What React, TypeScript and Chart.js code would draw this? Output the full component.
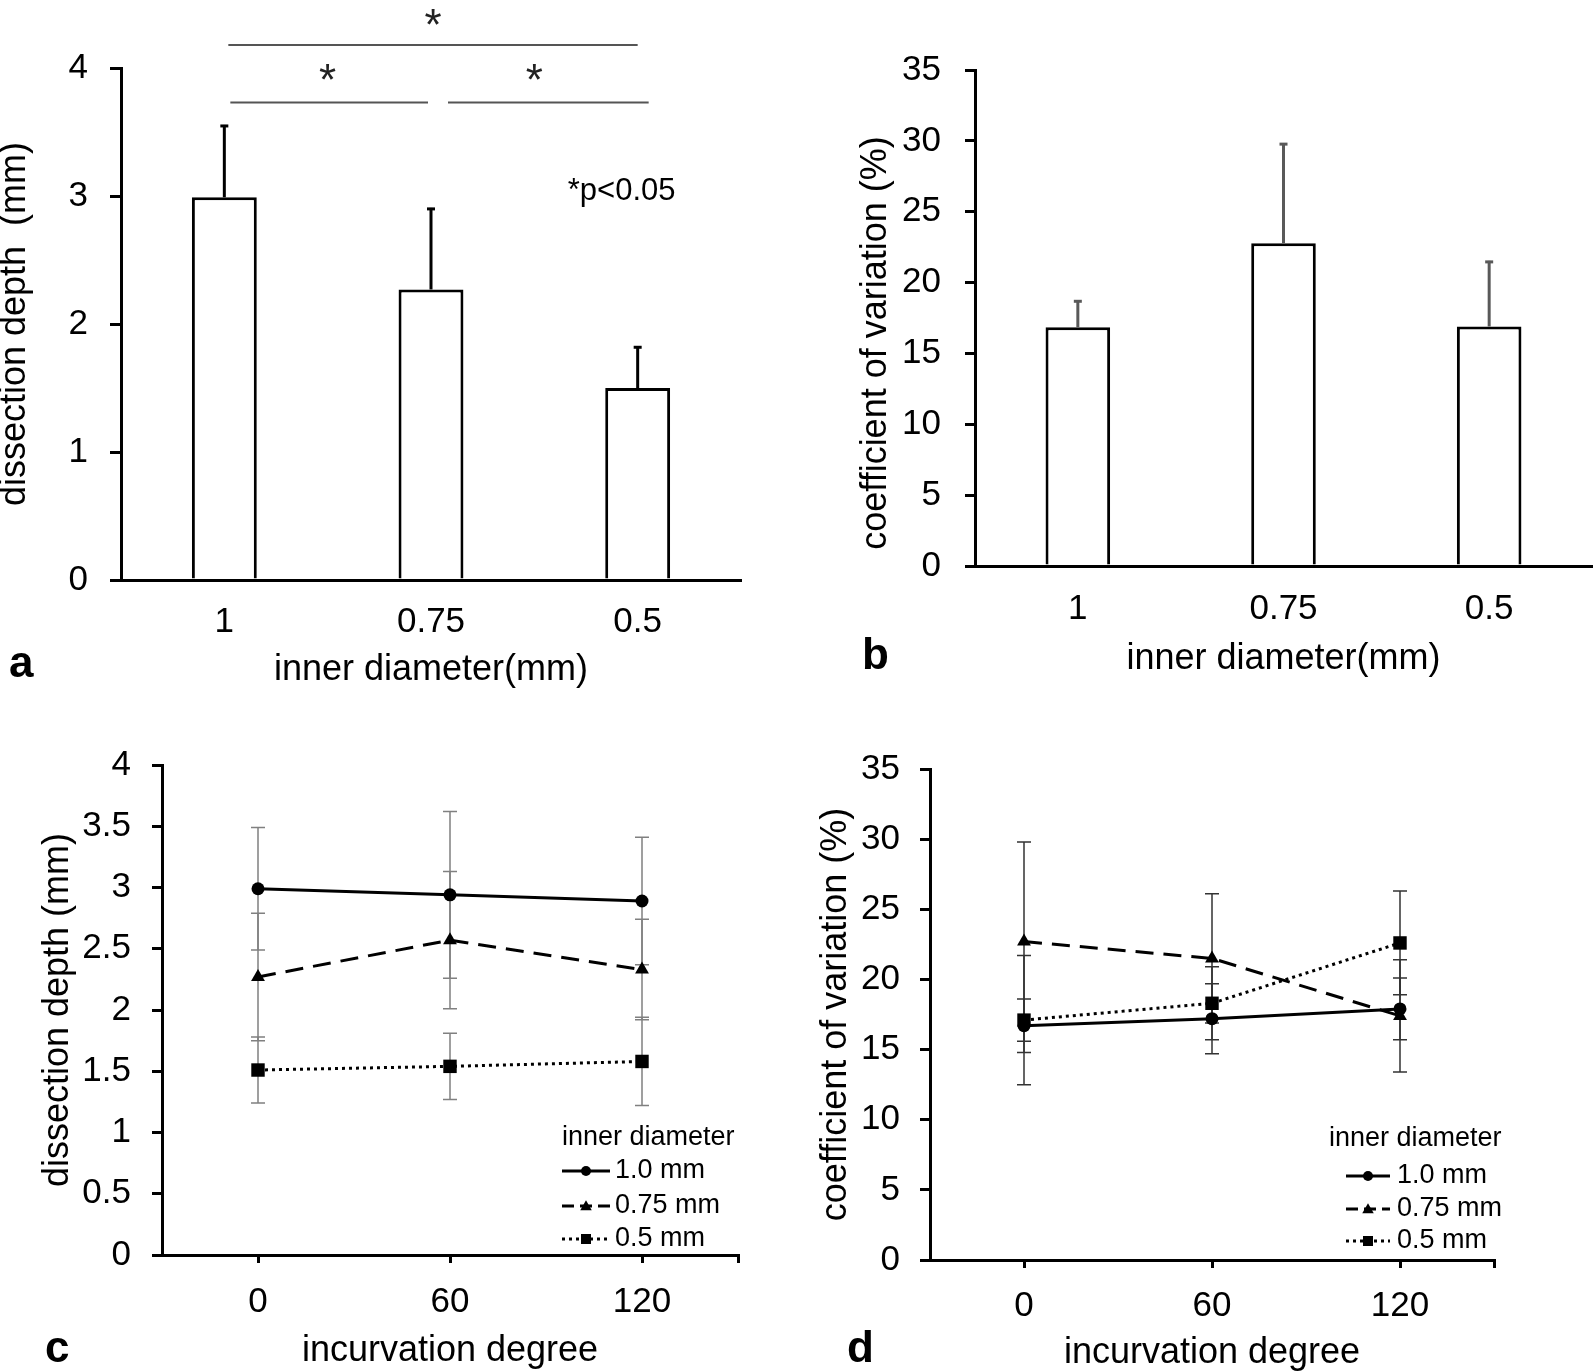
import React, { useEffect, useRef } from "react";
import { Chart, registerables } from "chart.js";

Chart.register(...registerables);

// ---------------- data ----------------
const diameterLabels = ["1", "0.75", "0.5"];
const depthMeans = [2.99, 2.27, 1.5];
const depthErrors = [0.565, 0.637, 0.326];
const cvMeans = [16.84, 22.78, 16.9];
const cvErrors = [1.91, 7.06, 4.63];

const degrees = [0, 60, 120];
const degreeTickValues = [0, 60, 120, 150];
const seriesLabels = ["1.0 mm", "0.75 mm", "0.5 mm"];

const depthBy10 = [2.99, 2.94, 2.89];
const depthBy10Err = [0.5, 0.68, 0.52];
const depthBy075 = [2.27, 2.57, 2.33];
const depthBy075Err = [0.52, 0.56, 0.41];
const depthBy05 = [1.51, 1.54, 1.58];
const depthBy05Err = [0.27, 0.27, 0.36];

const cvBy10 = [16.7, 17.2, 17.9];
const cvBy10Err = [1.9, 2.5, 2.2];
const cvBy075 = [22.7, 21.5, 17.4];
const cvBy075Err = [7.1, 4.6, 4.0];
const cvBy05 = [17.1, 18.3, 22.6];
const cvBy05Err = [4.6, 2.6, 3.7];

// significance brackets: [from category, to category, line level, star level]
const sigBrackets = [
  { from: 0, to: 2, line: 4.18, star: 4.4 },
  { from: 0, to: 1, line: 3.73, star: 3.97 },
  { from: 1, to: 2, line: 3.73, star: 3.97 },
];
const sigNote = "*p<0.05";

// ---------------- styles ----------------
const FONT = '"Liberation Sans", Arial, Helvetica, sans-serif';

type Box = { W: number; H: number; L: number; R: number; T: number; B: number };

function baseLayout(box: Box) {
  return {
    padding: { left: 0, top: box.T, right: box.W - box.R, bottom: 0 },
  };
}

function drawMarker(ctx: CanvasRenderingContext2D, style: string, x: number, y: number, s: number) {
  ctx.beginPath();
  if (style === "circle") {
    ctx.arc(x, y, s, 0, Math.PI * 2);
  } else if (style === "triangle") {
    ctx.moveTo(x, y - s * 1.15);
    ctx.lineTo(x + s * 1.15, y + s * 0.85);
    ctx.lineTo(x - s * 1.15, y + s * 0.85);
    ctx.closePath();
  } else {
    ctx.rect(x - s, y - s, s * 2, s * 2);
  }
  ctx.fillStyle = "#000";
  ctx.fill();
}

function barErrorPlugin(color: string) {
  return {
    id: "barErrors",
    afterDatasetsDraw(chart: any) {
      const ctx = chart.ctx;
      const ys = chart.scales.y;
      chart.data.datasets.forEach((ds: any, di: number) => {
        const meta = chart.getDatasetMeta(di);
        ds.errors.forEach((e: number, i: number) => {
          const x = meta.data[i].x;
          const y0 = ys.getPixelForValue(ds.data[i]);
          const y1 = ys.getPixelForValue(ds.data[i] + e);
          ctx.save();
          ctx.strokeStyle = color;
          ctx.lineWidth = 3;
          ctx.beginPath();
          ctx.moveTo(x, y0);
          ctx.lineTo(x, y1);
          ctx.stroke();
          ctx.beginPath();
          ctx.moveTo(x - 4, y1 + 1);
          ctx.lineTo(x + 4, y1 + 1);
          ctx.stroke();
          ctx.restore();
        });
      });
    },
  };
}

function lineErrorPlugin(color: string, width: number, cap: number) {
  return {
    id: "lineErrors",
    beforeDatasetsDraw(chart: any) {
      const ctx = chart.ctx;
      const ys = chart.scales.y;
      chart.data.datasets.forEach((ds: any, di: number) => {
        const meta = chart.getDatasetMeta(di);
        ds.errors.forEach((e: number, i: number) => {
          const pt = meta.data[i];
          const v = ds.data[i].y;
          const yt = ys.getPixelForValue(v + e);
          const yb = ys.getPixelForValue(v - e);
          ctx.save();
          ctx.strokeStyle = color;
          ctx.lineWidth = width;
          ctx.beginPath();
          ctx.moveTo(pt.x, yt);
          ctx.lineTo(pt.x, yb);
          ctx.moveTo(pt.x - cap, yt);
          ctx.lineTo(pt.x + cap, yt);
          ctx.moveTo(pt.x - cap, yb);
          ctx.lineTo(pt.x + cap, yb);
          ctx.stroke();
          ctx.restore();
        });
      });
    },
  };
}

function legendPlugin(o: { titleX: number; titleY: number; rows: number[]; x0: number; x1: number; textX: number }) {
  return {
    id: "seriesLegend",
    afterDraw(chart: any) {
      const ctx = chart.ctx;
      ctx.save();
      ctx.font = `27px ${FONT}`;
      ctx.fillStyle = "#000";
      ctx.textAlign = "left";
      ctx.textBaseline = "middle";
      ctx.fillText("inner diameter", o.titleX, o.titleY);
      chart.data.datasets.forEach((ds: any, i: number) => {
        const y = o.rows[i];
        ctx.strokeStyle = "#000";
        ctx.lineWidth = ds.borderWidth;
        ctx.setLineDash(ds.legendDash);
        ctx.beginPath();
        ctx.moveTo(o.x0, y);
        ctx.lineTo(o.x1, y);
        ctx.stroke();
        ctx.setLineDash([]);
        drawMarker(ctx, ds.pointStyle, (o.x0 + o.x1) / 2, y, 5);
        ctx.fillStyle = "#000";
        ctx.fillText(ds.label, o.textX, y);
      });
      ctx.restore();
    },
  };
}

const sigPlugin = {
  id: "significance",
  afterDraw(chart: any) {
    const ctx = chart.ctx;
    const xs = chart.scales.x;
    const ys = chart.scales.y;
    ctx.save();
    ctx.strokeStyle = "#555";
    ctx.lineWidth = 2;
    ctx.fillStyle = "#222";
    ctx.textAlign = "center";
    ctx.textBaseline = "middle";
    sigBrackets.forEach((b, k) => {
      const xa = xs.getPixelForValue(b.from);
      const xb = xs.getPixelForValue(b.to);
      const yl = ys.getPixelForValue(b.line);
      let s = xa + 4;
      let e = xb;
      if (k === 1) { s = xa + 6; e = xb - 3; }
      if (k === 2) { s = xa + 17; e = xb + 11; }
      ctx.beginPath();
      ctx.moveTo(s, yl);
      ctx.lineTo(e, yl);
      ctx.stroke();
      ctx.font = `44px ${FONT}`;
      const sx = k === 0 ? xs.getPixelForValue(1) + 2 : (xa + xb) / 2;
      ctx.fillText("*", sx, ys.getPixelForValue(b.star) + 11);
    });
    ctx.font = `31px ${FONT}`;
    ctx.fillStyle = "#000";
    ctx.textBaseline = "alphabetic";
    ctx.fillText(sigNote, xs.getPixelForValue(2) - 16, ys.getPixelForValue(2.97));
    ctx.restore();
  },
};

function yAxis(box: Box, o: any) {
  return {
    position: "left",
    min: o.min,
    max: o.max,
    afterFit: (s: any) => { s.width = box.L; },
    afterBuildTicks: (s: any) => {
      const t = [];
      for (let v = o.min; v <= o.max + 1e-9; v += o.step) t.push({ value: Math.round(v * 100) / 100 });
      s.ticks = t;
    },
    border: { display: true, color: "#000", width: 3 },
    grid: { drawOnChartArea: false, drawTicks: true, tickLength: o.tl, color: "#000", lineWidth: 3 },
    ticks: {
      color: "#000",
      padding: o.pad,
      font: { family: FONT, size: o.fs, lineHeight: 1 },
      callback: (v: number) => String(v),
    },
    title: {
      display: true,
      text: o.title,
      color: "#000",
      font: { family: FONT, size: 36, lineHeight: 1 },
      padding: { top: o.titlePad, bottom: 0 },
    },
  };
}

function useChart(ref: React.RefObject<HTMLCanvasElement>, make: () => any) {
  useEffect(() => {
    if (!ref.current) return;
    const chart = new Chart(ref.current, make());
    return () => chart.destroy();
  }, []);
}

function commonOptions(box: Box) {
  return {
    responsive: false,
    maintainAspectRatio: false,
    animation: false,
    devicePixelRatio: 1,
    layout: baseLayout(box),
    plugins: { legend: { display: false }, tooltip: { enabled: false } },
    events: [],
  };
}

function BarPanel(props: { box: Box; values: number[]; errors: number[]; errColor: string; y: any; xTitle: string; xTitlePad: number; xTickPad: number; sig?: boolean }) {
  const ref = useRef<HTMLCanvasElement>(null);
  const { box } = props;
  useChart(ref, () => ({
    type: "bar",
    data: {
      labels: diameterLabels,
      datasets: [
        {
          data: props.values,
          errors: props.errors,
          backgroundColor: "#fff",
          borderColor: "#000",
          borderWidth: 3,
          barPercentage: 0.314,
          categoryPercentage: 1,
        },
      ],
    },
    options: {
      ...commonOptions(box),
      scales: {
        x: {
          type: "category",
          offset: true,
          afterFit: (s: any) => { s.height = box.H - box.B; },
          border: { display: true, color: "#000", width: 3 },
          grid: { display: false, drawTicks: false },
          ticks: { color: "#000", padding: props.xTickPad, font: { family: FONT, size: 35, lineHeight: 1 } },
          title: {
            display: true,
            text: props.xTitle,
            color: "#000",
            font: { family: FONT, size: 36, lineHeight: 1 },
            padding: { top: 0, bottom: props.xTitlePad },
          },
        },
        y: yAxis(box, props.y),
      },
    },
    plugins: props.sig ? [barErrorPlugin(props.errColor), sigPlugin] : [barErrorPlugin(props.errColor)],
  }));
  return <canvas ref={ref} width={box.W} height={box.H} style={{ display: "block", width: box.W, height: box.H }} />;
}

function LinePanel(props: { box: Box; series: { v: number[]; e: number[] }[]; y: any; xTitlePad: number; xTickPad: number; errColor: string; errWidth: number; legend: any }) {
  const ref = useRef<HTMLCanvasElement>(null);
  const { box } = props;
  const styles = [
    { pointStyle: "circle", radius: 6.5, dash: [], legendDash: [], width: 3 },
    { pointStyle: "triangle", radius: 8, dash: [18, 10], legendDash: [12, 6], width: 3 },
    { pointStyle: "rect", radius: 9.5, dash: [3, 4], legendDash: [3, 4], width: 3 },
  ];
  useChart(ref, () => ({
    type: "line",
    data: {
      datasets: props.series.map((s, i) => ({
        label: seriesLabels[i],
        data: degrees.map((d, k) => ({ x: d, y: s.v[k] })),
        errors: s.e,
        borderColor: "#000",
        backgroundColor: "#000",
        borderWidth: styles[i].width,
        borderDash: styles[i].dash,
        legendDash: styles[i].legendDash,
        pointStyle: styles[i].pointStyle,
        pointRadius: styles[i].radius,
        pointBackgroundColor: "#000",
        pointBorderColor: "#000",
        pointBorderWidth: 0,
        fill: false,
        tension: 0,
        clip: false,
      })),
    },
    options: {
      ...commonOptions(box),
      scales: {
        x: {
          type: "linear",
          min: -30,
          max: 150,
          afterFit: (s: any) => { s.height = box.H - box.B; },
          afterBuildTicks: (s: any) => { s.ticks = degreeTickValues.map((v) => ({ value: v })); },
          border: { display: true, color: "#000", width: 3 },
          grid: { drawOnChartArea: false, drawTicks: true, tickLength: 8, color: "#000", lineWidth: 3 },
          ticks: {
            color: "#000",
            padding: props.xTickPad,
            font: { family: FONT, size: 35, lineHeight: 1 },
            callback: (v: number) => (degrees.includes(v) ? String(v) : ""),
          },
          title: {
            display: true,
            text: "incurvation degree",
            color: "#000",
            font: { family: FONT, size: 36, lineHeight: 1 },
            padding: { top: 0, bottom: props.xTitlePad },
          },
        },
        y: yAxis(box, props.y),
      },
    },
    plugins: [lineErrorPlugin(props.errColor, props.errWidth, 7), legendPlugin(props.legend)],
  }));
  return <canvas ref={ref} width={box.W} height={box.H} style={{ display: "block", width: box.W, height: box.H }} />;
}

const letterStyle: React.CSSProperties = {
  position: "absolute",
  fontFamily: FONT,
  fontWeight: "bold",
  fontSize: 44,
  lineHeight: "44px",
  color: "#000",
};

export default function App() {
  const boxA: Box = { W: 790, H: 700, L: 121, R: 741, T: 68, B: 580 };
  const boxB: Box = { W: 804, H: 700, L: 185, R: 802, T: 70, B: 566 };
  const boxC: Box = { W: 790, H: 672, L: 162, R: 738, T: 65, B: 555 };
  const boxD: Box = { W: 804, H: 672, L: 140, R: 704, T: 69, B: 560 };
  return (
    <div style={{ position: "absolute", left: 0, top: 0, width: 1594, height: 1372, background: "#fff", overflow: "hidden" }}>
      <div style={{ position: "absolute", left: 0, top: 0 }}>
        <BarPanel
          box={boxA}
          values={depthMeans}
          errors={depthErrors}
          errColor="#000"
          sig
          xTitle="inner diameter(mm)"
          xTitlePad={12}
          xTickPad={25}
          y={{ min: 0, max: 4, step: 1, tl: 11, pad: 22, fs: 35, title: "dissection depth  (mm)", titlePad: -3 }}
        />
      </div>
      <div style={{ position: "absolute", left: 790, top: 0 }}>
        <BarPanel
          box={boxB}
          values={cvMeans}
          errors={cvErrors}
          errColor="#595959"
          xTitle="inner diameter(mm)"
          xTitlePad={23}
          xTickPad={26}
          y={{ min: 0, max: 35, step: 5, tl: 10, pad: 24, fs: 35, title: "coefficient of variation (%)     ", titlePad: 68 }}
        />
      </div>
      <div style={{ position: "absolute", left: 0, top: 700 }}>
        <LinePanel
          box={boxC}
          series={[
            { v: depthBy10, e: depthBy10Err },
            { v: depthBy075, e: depthBy075Err },
            { v: depthBy05, e: depthBy05Err },
          ]}
          errColor="#808080"
          errWidth={1.5}
          xTitlePad={3}
          xTickPad={22}
          y={{ min: 0, max: 4, step: 0.5, tl: 10, pad: 21, fs: 35, title: "dissection depth (mm)", titlePad: 40 }}
          legend={{ titleX: 562, titleY: 438, rows: [471, 506, 539], x0: 562, x1: 610, textX: 615 }}
        />
      </div>
      <div style={{ position: "absolute", left: 790, top: 700 }}>
        <LinePanel
          box={boxD}
          series={[
            { v: cvBy10, e: cvBy10Err },
            { v: cvBy075, e: cvBy075Err },
            { v: cvBy05, e: cvBy05Err },
          ]}
          errColor="#333"
          errWidth={1.5}
          xTitlePad={1}
          xTickPad={21}
          y={{ min: 0, max: 35, step: 5, tl: 10, pad: 20, fs: 35, title: "coefficient of variation (%)", titlePad: 28 }}
          legend={{ titleX: 539, titleY: 439, rows: [476, 509, 541], x0: 556, x1: 600, textX: 607 }}
        />
      </div>
      <div style={{ ...letterStyle, left: 9, top: 640 }}>a</div>
      <div style={{ ...letterStyle, left: 862, top: 632 }}>b</div>
      <div style={{ ...letterStyle, left: 45, top: 1325 }}>c</div>
      <div style={{ ...letterStyle, left: 847, top: 1325 }}>d</div>
    </div>
  );
}
